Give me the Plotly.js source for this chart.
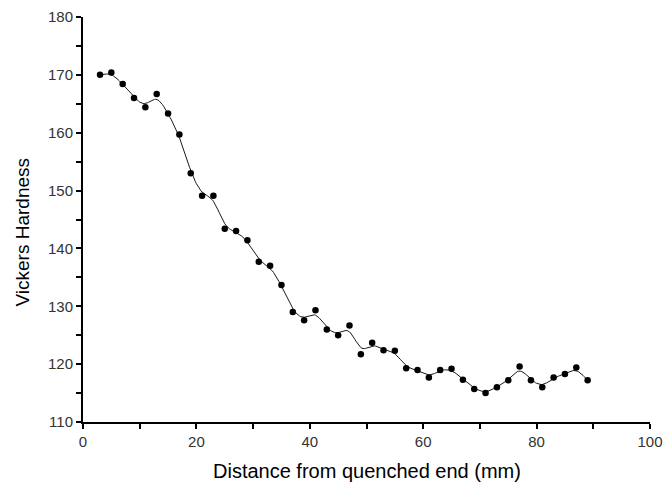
<!DOCTYPE html>
<html>
<head>
<meta charset="utf-8">
<script src="https://cdn.plot.ly/plotly-3.0.1.min.js"></script>
<style>
  html, body { margin: 0; padding: 0; background: #fff; }
  #chart { width: 668px; height: 486px; }
</style>
</head>
<body>
<div id="chart"></div>
<script>
// Distance from the quenched end (mm)
const distance = [3, 5, 7, 9, 11, 13, 15, 17, 19, 21, 23, 25, 27, 29, 31, 33, 35,
                  37, 39, 41, 43, 45, 47, 49, 51, 53, 55, 57, 59, 61, 63, 65, 67, 69,
                  71, 73, 75, 77, 79, 81, 83, 85, 87, 89];
// Measured Vickers hardness at each position
const hardness = [170.0, 170.4, 168.4, 166.0, 164.4, 166.7, 163.3, 159.7, 153.0,
                  149.1, 149.1, 143.4, 143.0, 141.4, 137.7, 137.0, 133.7, 129.0,
                  127.6, 129.3, 126.0, 125.0, 126.7, 121.7, 123.7, 122.4, 122.3,
                  119.3, 119.0, 117.7, 119.0, 119.2, 117.3, 115.7, 115.0, 116.0,
                  117.2, 119.6, 117.2, 116.0, 117.7, 118.3, 119.4, 117.2];
const xTickVals = [0, 20, 40, 60, 80, 100];
const yTickVals = [110, 120, 130, 140, 150, 160, 170, 180];

// Uniform cubic B-spline through the measurements used as control points,
// with reflected end points so the curve starts and ends on the data.
function bspline(xs, ys, steps) {
  const n = xs.length;
  const px = [2 * xs[0] - xs[1], ...xs, 2 * xs[n - 1] - xs[n - 2]];
  const py = [2 * ys[0] - ys[1], ...ys, 2 * ys[n - 1] - ys[n - 2]];
  const cx = [], cy = [];
  for (let i = 1; i < px.length - 2; i++) {
    const last = (i === px.length - 3);
    for (let s = 0; s <= (last ? steps : steps - 1); s++) {
      const t = s / steps;
      const b0 = Math.pow(1 - t, 3) / 6;
      const b1 = (3 * t * t * t - 6 * t * t + 4) / 6;
      const b2 = (-3 * t * t * t + 3 * t * t + 3 * t + 1) / 6;
      const b3 = t * t * t / 6;
      cx.push(b0 * px[i - 1] + b1 * px[i] + b2 * px[i + 1] + b3 * px[i + 2]);
      cy.push(b0 * py[i - 1] + b1 * py[i] + b2 * py[i + 1] + b3 * py[i + 2]);
    }
  }
  return [cx, cy];
}

const [curveX, curveY] = bspline(distance, hardness, 10);

const font = 'Liberation Sans, Arial, sans-serif';

const traces = [
  {
    x: curveX, y: curveY, type: 'scatter', mode: 'lines',
    line: { color: '#1a1a1a', width: 1 },
    hoverinfo: 'skip'
  },
  {
    x: distance, y: hardness, type: 'scatter', mode: 'markers',
    marker: { symbol: 'circle', size: 6.5, color: '#000' }
  }
];

const layout = {
  width: 668, height: 486,
  margin: { l: 83, r: 18, t: 17, b: 64 },
  paper_bgcolor: '#fff', plot_bgcolor: '#fff',
  showlegend: false,
  font: { family: font, color: '#222' },
  xaxis: {
    range: [0, 100], tickvals: xTickVals,
    ticks: 'outside', ticklen: 5, tickwidth: 2, tickcolor: '#000',
    minor: { dtick: 10, ticks: 'outside', ticklen: 5, tickwidth: 2, tickcolor: '#000' },
    showline: true, linecolor: '#000', linewidth: 2,
    showgrid: false, zeroline: false,
    tickfont: { size: 15, color: '#333' }
  },
  yaxis: {
    range: [110, 180], tickvals: yTickVals,
    ticks: 'outside', ticklen: 5, tickwidth: 2, tickcolor: '#000',
    minor: { dtick: 5, ticks: 'outside', ticklen: 5, tickwidth: 2, tickcolor: '#000' },
    showline: true, linecolor: '#000', linewidth: 2,
    showgrid: false, zeroline: false,
    tickfont: { size: 15, color: '#333' }
  },
  annotations: [
    {
      text: 'Distance from quenched end (mm)',
      xref: 'paper', yref: 'paper', x: 0.5, y: -0.121,
      xanchor: 'center', yanchor: 'middle', showarrow: false,
      font: { size: 20, color: '#000' }
    },
    {
      text: 'Vickers Hardness', textangle: -90,
      xref: 'paper', yref: 'paper', x: -0.1075, y: 0.468,
      xanchor: 'center', yanchor: 'middle', showarrow: false,
      font: { size: 19, color: '#000' }
    }
  ]
};

Plotly.newPlot('chart', traces, layout, { displayModeBar: false, staticPlot: true });
</script>
</body>
</html>
